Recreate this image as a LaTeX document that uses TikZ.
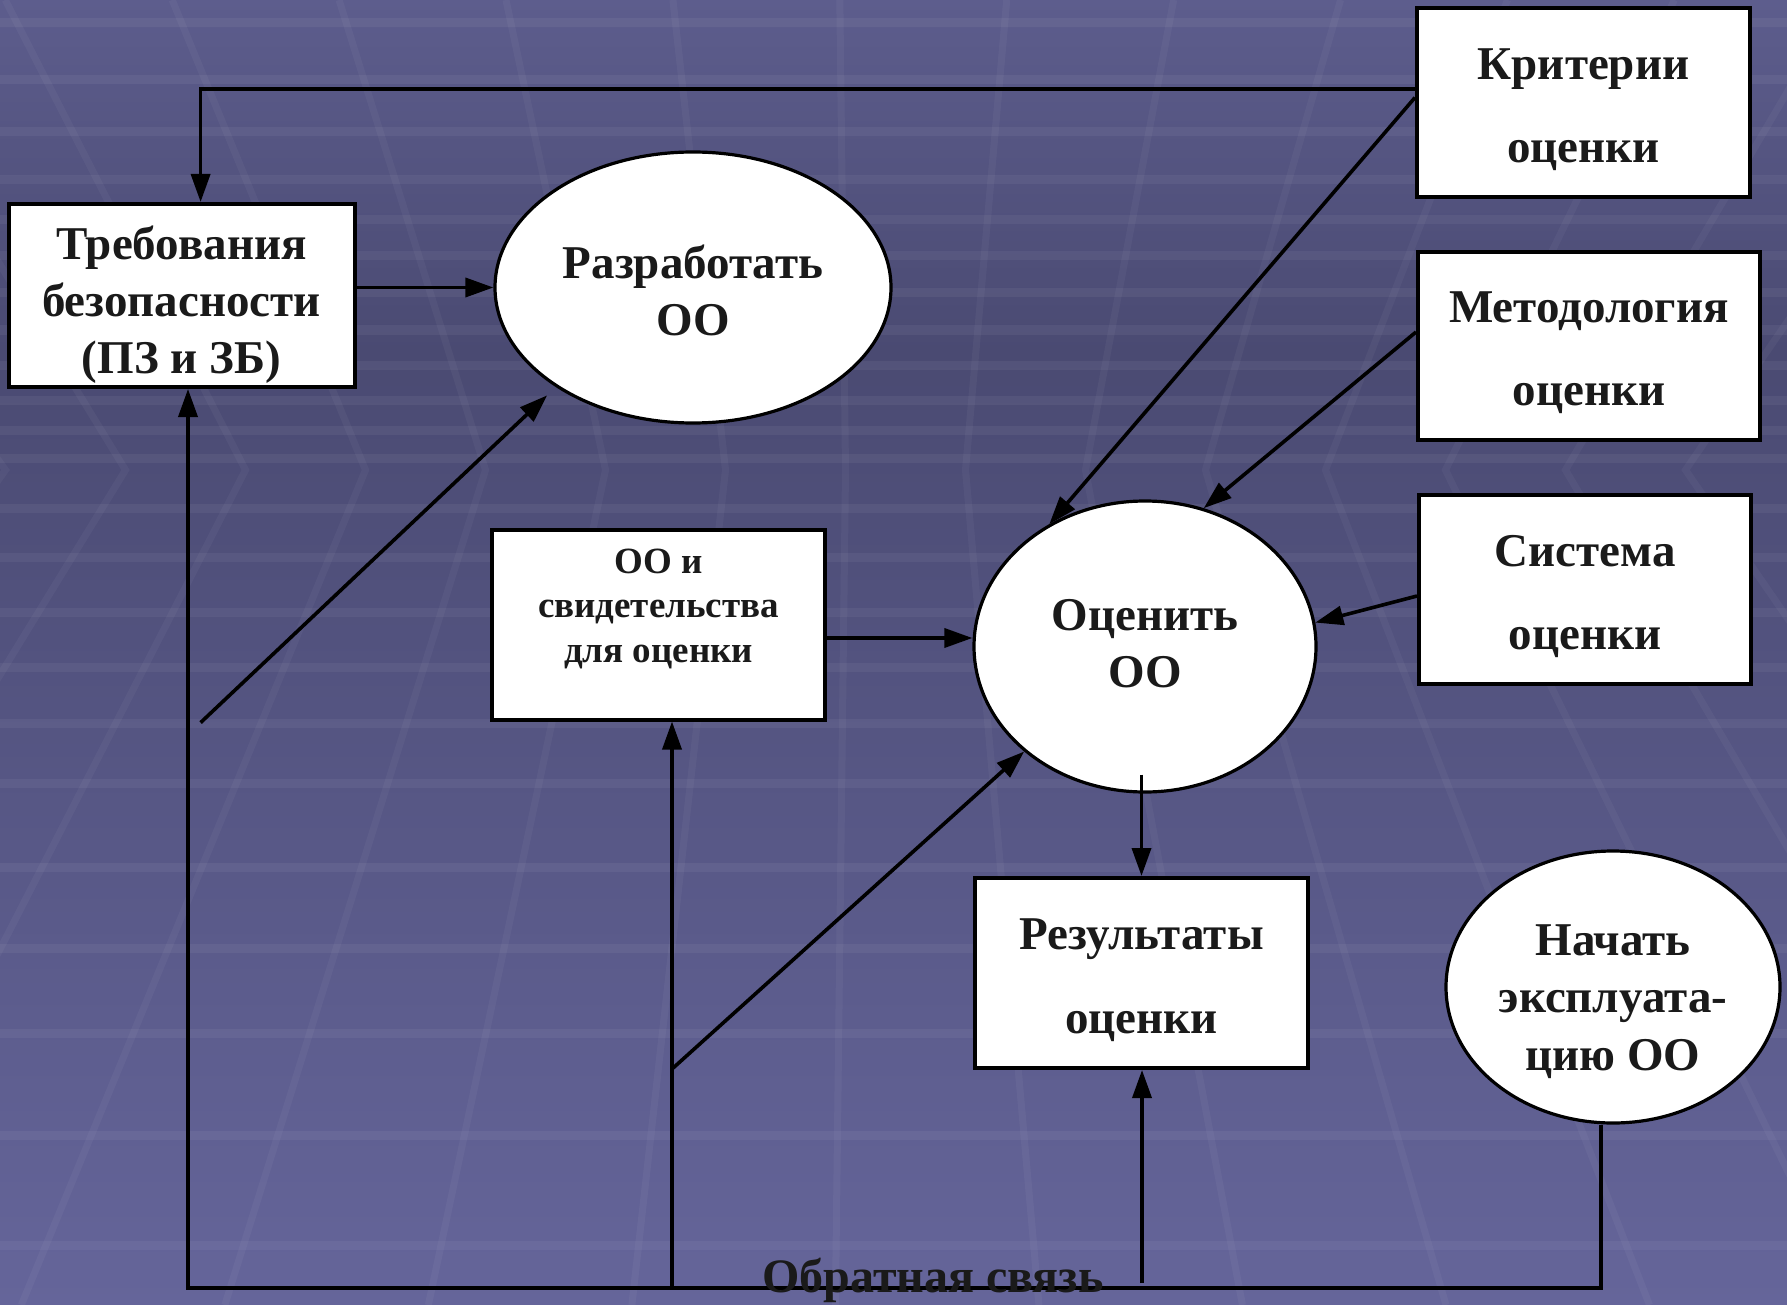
\documentclass[tikz,border=0pt]{standalone}
\usepackage{fontspec}
\setmainfont{Liberation Serif}
\usetikzlibrary{shapes.geometric,arrows.meta}
\definecolor{bgtop}{HTML}{5D5D8D}
\definecolor{bgmid}{HTML}{4A4A72}
\definecolor{bgbot}{HTML}{65659A}
\definecolor{ink}{HTML}{1A1A1A}
\tikzset{
  box/.style={draw=black, line width=4pt, fill=white, rectangle, inner sep=0pt,
    align=center, text=ink, font=\bfseries\fontsize{47}{83}\selectfont, text depth=0pt},
  oval/.style={draw=black, line width=3.2pt, fill=white, ellipse, inner sep=0pt,
    align=center, text=ink, font=\bfseries\fontsize{47}{57}\selectfont, text depth=0pt},
  conn/.style={line width=3.6pt, draw=black},
  arr/.style={conn, -{Triangle[length=28pt,width=19pt]}},
  gridline/.style={white, opacity=0.05, line width=9pt},
}
\begin{document}
\begin{tikzpicture}[x=1pt,y=-1pt]
\useasboundingbox (0,0) rectangle (1787,1305);
% backdrop: vertical gradient with a faint perspective grid
\shade[top color=bgtop, bottom color=bgmid] (0,0) rectangle (1787,351);
\shade[top color=bgmid, bottom color=bgbot] (0,350) rectangle (1787,1305);
\begin{scope}
  \clip (0,0) rectangle (1787,1305);
  \foreach \y in {23,80,132,180,220,256,293,330,365,400,430,458,508,557,612,667,723,783,867,948,1033,1135,1245}
    \draw[gridline] (0,\y) -- (1787,\y);
  \foreach \k in {-6,...,16} {
    \pgfmathsetmacro{\xa}{365.5+120*\k}
    \pgfmathsetmacro{\xt}{(\xa-241.7)/0.719}
    \pgfmathsetmacro{\xb}{860+(\xa-860)*1.696}
    \draw[gridline, opacity=0.04, line width=7pt] (\xt,0) -- (\xa,470) -- (\xb,1305);
  }
\end{scope}

% process blocks (text height places the last baseline inside each shape)
\node[box, minimum width=346pt, minimum height=183pt, text height=155pt,
      font=\bfseries\fontsize{47}{57}\selectfont] (req) at (181.5,295.5)
      {Требования\\безопасности\\(ПЗ и ЗБ)};
\node[oval, minimum width=396pt, minimum height=271pt, text height=95pt] (dev) at (693,287.5)
      {Разработать\\ОО};
\node[box, minimum width=333pt, minimum height=190pt, text height=75pt,
      font=\bfseries\fontsize{37}{44.5}\selectfont] (obj) at (658.5,624.5)
      {ОО и\\свидетельства\\для оценки};
\node[oval, minimum width=342pt, minimum height=291pt, text height=81pt] (eval) at (1145,646.5)
      {Оценить\\ОО};
\node[box, minimum width=333pt, minimum height=189pt, text height=121pt] (crit) at (1583.5,102.5)
      {Критерии\\оценки};
\node[box, minimum width=342pt, minimum height=188pt, text height=118pt] (meth) at (1589,346)
      {Методология\\оценки};
\node[box, minimum width=332pt, minimum height=189pt, text height=120pt] (sys) at (1585,589)
      {Система\\оценки};
\node[box, minimum width=333pt, minimum height=190pt, text height=120pt,
      font=\bfseries\fontsize{47}{84}\selectfont] (res) at (1141.5,973)
      {Результаты\\оценки};
\node[oval, minimum width=334pt, minimum height=272pt, text height=166pt,
      font=\bfseries\fontsize{47}{57.5}\selectfont] (start) at (1613,987)
      {Начать\\эксплуата-\\цию ОО};

% connectors
\coordinate (topL) at (200.6,89);
\draw[arr] (topL -| crit.west) -- (topL) -- (topL |- req.north);
\draw[arr] (req.east |- dev.west) -- (dev.west);
\coordinate (devIn) at (200.6,722.6);
\draw[arr, shorten >=12pt] (devIn) -- (dev.216);

\draw[arr] ([yshift=5pt]crit.west) -- (eval.128);
\draw[arr] ([yshift=14pt]meth.west) -- (eval.67);
\draw[arr] ([yshift=-7pt]sys.west) -- (eval.8);
\coordinate (objOut) at ([yshift=-13.5pt]obj.east);
\draw[arr] (objOut) -- (objOut -| eval.west);
\coordinate (evOut) at ([yshift=19pt]eval.south);
\draw[arr] (evOut -| res.north) -- (res.north);

% feedback loop along the bottom
\coordinate (fbR) at (1601,1288);
\coordinate (fbL) at (188,1288);
\coordinate (fbM) at (672,1288);
\coordinate (fbD) at (672,1069);
\coordinate (fbRes) at (1142,1283);
\draw[arr] (fbR |- start.south) -- (fbR) -- (fbL) -- (fbL |- req.south);
\draw[arr] (fbM) -- (fbM |- obj.south);
\draw[arr] (fbD) -- (eval.221);
\draw[arr] (fbRes) -- (fbRes |- res.south);
\node[font=\bfseries\fontsize{48}{48}\selectfont, text=ink, anchor=base, inner sep=0pt]
      (fbtext) at (933,1292) {Обратная связь};
\end{tikzpicture}
\end{document}
